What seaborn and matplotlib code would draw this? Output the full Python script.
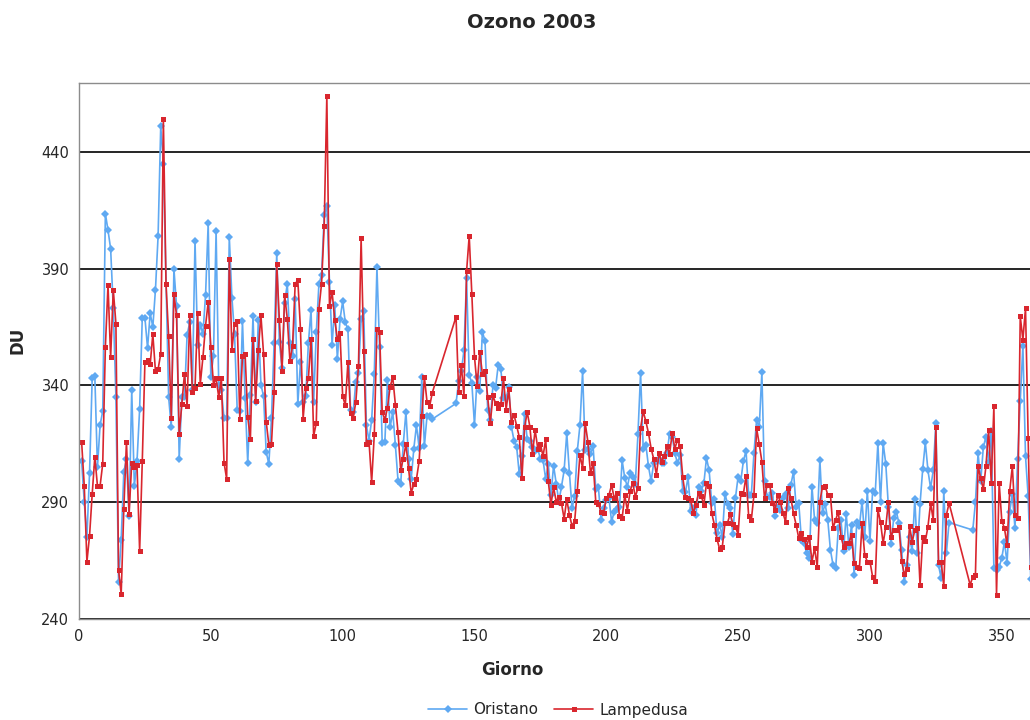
import matplotlib

matplotlib.use("Agg", force=True)
import pandas as pd  # noqa: E402
import seaborn as sns  # noqa: E402
from matplotlib import pyplot as plt  # noqa: E402

STATIONS = ["Oristano", "Lampedusa"]
PALETTE = {"Oristano": "#5fa9f2", "Lampedusa": "#d9262e"}
MARKERS = {"Oristano": "D", "Lampedusa": "s"}

# day of year for each reading (gaps are days with no measurement)
ORISTANO_DAYS = [*range(1, 33), *range(34, 135), *range(143, 331), *range(339, 362)]
ORISTANO_DU = [
    307.5, 290, 275, 302.5, 343, 344, 305, 323, 329, 413.6, 406.5, 398.5, 373, 335, 256, 274,
    303, 308.5, 284, 338, 297, 307.5, 330, 369, 369, 356, 371, 365, 381, 404, 451, 435,
    335, 322, 390, 374, 308.5, 335, 335, 361.6, 367, 338, 402, 357.5, 366, 362, 378.7, 409.4,
    343.5, 352.7, 406, 340, 338, 326, 326, 403.6, 377.5, 362, 329.7, 329, 367.6, 334.6, 306.7,
    335.7, 369.8,
    333, 368, 340.4, 335.4, 311.5, 306.4, 326, 358, 396.5, 358.4, 347.5, 375.3, 383.6, 358,
    352.4, 377, 332, 350, 333, 335.4, 358, 372.5, 333, 362.7, 383.5, 387.3, 412.8, 417, 384.4,
    357.5, 374.3, 351.3, 368.3,
    376, 367, 364, 329.4, 328.5, 341.6, 345.3, 368.3, 371.7, 323, 316.4, 325.3, 344.9, 390.6,
    356.4, 315.3, 315.6, 342.3, 322, 328.7, 314.4, 299.3, 297.8, 314.9, 328.7, 308.7, 300, 313,
    323, 313.4, 343.5, 314, 327, 326.8, 325.6,
    332.3, 341.8, 346, 355, 386, 344.5, 341, 323, 343.8, 337.6, 363, 359, 329.7, 325, 340, 339,
    348.7, 347, 334.5, 334.5, 339.4, 322.3, 316.4,
    313.6, 302, 309.6, 327.7, 317, 316.4, 313.6, 312, 313, 308.4, 308, 300, 306.3, 293, 305.7,
    298, 290.3, 296.7, 303.6, 319.6, 302.7, 287.4, 292.7, 312, 322.9, 346, 312.4, 312.7, 310.7,
    313.9, 295.7, 296.4, 282.4,
    287.4, 291, 292, 281.7, 286, 287, 287.9, 308, 300.3, 296.7, 302.4, 301, 298, 319, 345.3,
    312.7, 314.6, 305.3, 299, 307, 307.7, 308.4, 306.7, 306.7, 311, 319.3, 318.1, 311, 306.7,
    310.3, 295, 294.3, 300.7,
    286.4, 287.4, 284.6, 296.4, 295, 298.1, 308.9, 303.6, 289.6, 291.3, 276.7, 280.3, 275.3,
    293.6, 289.3, 287.4, 276.3, 292, 301, 299.1, 307.7, 312, 293.1, 293.1, 311, 325.3, 322,
    345.6, 299.3, 292.4, 292.4, 293.9, 283.9,
    288.1, 286.7, 291.7, 293.6, 287.4, 297.4, 303.1, 288.1, 289.6, 273.9, 272.4, 268.1, 266,
    296.7, 282.4, 281.3, 308.1, 285.3, 289.3, 282.4, 269.6, 263.1, 261.7, 278.9, 282.4, 269.3,
    285, 271, 280.3, 258.9, 281.7, 279.9, 290.3,
    275, 294.9, 273.6, 294.6, 293.9, 315.3, 290, 315.3, 306.4, 287.9, 272.1, 283.1, 286, 281,
    269.6, 256, 263.1, 275, 269.1, 291.4, 268.4, 289.3, 304.1, 315.6, 303.6, 296, 303.6, 323.9,
    263.1, 257.4, 294.6, 268.4, 281.3,
    278.1, 289.9, 311, 298.9, 313.6, 318.1, 307.4, 320.7, 261.7, 261, 262.4, 266, 273.1, 263.9,
    286, 293.6, 278.9, 308.4, 333.4, 357.1, 309.6, 292.7, 257,
]

LAMPEDUSA_DAYS = [*range(1, 135), *range(143, 331), *range(338, 362)]
LAMPEDUSA_DU = [
    315.7, 297, 264.5, 275.6, 293.4, 309.4, 297, 297, 306.5, 356.5, 383, 352, 381, 366.5, 261,
    250.7, 287, 316, 285, 307, 305, 306, 269, 307.5, 350, 351, 349, 362, 346, 347, 353.5, 454,
    383.6, 361, 326, 379, 370, 319, 332, 345, 331, 370, 337, 339, 371, 340.6, 352, 365.6, 375.7,
    356.5, 340.4, 343, 335, 343, 307, 300, 394, 355, 366.5, 367.6, 325.7, 352.7, 353.5, 326.5,
    317, 359.7,
    333.5, 355, 370, 353.5, 324.5, 314.6, 315, 337, 392, 368, 346.4, 378.7, 368.6, 350.5, 357,
    383.6, 385, 364, 325.7, 339, 343, 360, 318.3, 324, 372.8, 383.6, 408.4, 464, 374, 380, 368,
    360, 362.4,
    335.4, 331.5, 350, 328, 326, 333, 348.3, 403, 354.7, 314.9, 316, 298.6, 319, 364, 362.8,
    328.7, 325.3, 330.5, 339.4, 343.5, 331.7, 320, 303.8, 308.7, 314.9, 304.5, 294, 297.8, 300,
    307.5, 327, 343.5, 333, 331.2, 336.9,
    369.4, 337, 348.6, 335.4, 388.8, 404, 379, 352.3, 339.8, 354.5, 344.9, 346.4, 335, 323.8,
    335.7, 332.3, 330.2, 332, 343, 329.7, 338.3, 324.5, 327.5,
    322.7, 317.9, 300.3, 322, 328.6, 322.4, 310.7, 321, 313, 315, 309.6, 317, 298.9, 288.9,
    296.4, 290.3, 292.4, 289.6, 282.9, 291.3, 284.6, 279.9, 282, 295, 310.3, 304.6, 323.9, 316,
    302.4, 306.7, 290.3, 289.3, 286,
    285.6, 291.7, 293, 297.4, 291.7, 293.9, 283.9, 283.1, 293, 286.4, 294.6, 298.4, 292.4, 296,
    321.7, 328.9, 324.6, 319.6, 313, 308.4, 301.7, 311, 307.4, 309.6, 313.9, 310.7, 319.6, 313,
    316.7, 313.9, 300.7, 292.4, 291.7,
    291, 285.3, 288.9, 293.9, 292.7, 288.9, 298.1, 297, 285.3, 280.3, 274.1, 269.9, 271, 281,
    281.3, 285, 280.7, 279.6, 276, 293.9, 293.6, 301.3, 283.9, 282.4, 293.1, 321.7, 314.9,
    307.4, 291.7, 297.4, 297.4, 289.6, 286.7,
    293.1, 290.3, 285.3, 281.7, 296, 291.7, 285.3, 280.3, 274.6, 276.7, 274.1, 271, 275.3,
    264.6, 270.3, 262.4, 290.3, 296.7, 297, 293.1, 293.1, 278.9, 282.4, 286, 275.3, 271, 272.4,
    272.4, 276, 263.9, 262.4, 261.7, 281,
    267.4, 264.6, 264.6, 258.1, 256.3, 287, 281.4, 272.4, 279.6, 290.3, 275.3, 278.1, 278.1,
    279.6, 264.9, 259.3, 261.3, 279.9, 273.1, 277.9, 278.9, 254.4, 274.9, 273.4, 279.6, 289.6,
    282.4, 322, 264.6, 264.6, 254.1, 284.6, 289.6,
    254.6, 258.1, 258.9, 305.3, 300.3, 295.6, 305.6, 321, 298.4, 331, 250.3, 298.4, 282.1,
    278.9, 271.7, 294.9, 305.3, 284.6, 283.1, 369.6, 359.6, 373.1, 317.4, 262.4,
]

X_TICKS = [0, 50, 100, 150, 200, 250, 300, 350]
Y_TICKS = [240, 290, 340, 390, 440]


def build_frame() -> pd.DataFrame:
    parts = [
        pd.DataFrame({"Giorno": ORISTANO_DAYS, "DU": ORISTANO_DU, "stazione": "Oristano"}),
        pd.DataFrame({"Giorno": LAMPEDUSA_DAYS, "DU": LAMPEDUSA_DU, "stazione": "Lampedusa"}),
    ]
    return pd.concat(parts, ignore_index=True)


frame = build_frame()

sns.set_style("white")
plt.rcParams["font.family"] = ["DejaVu Sans"]

fig = plt.figure(figsize=(10.3, 7.2), dpi=100)
ax = fig.add_axes([79 / 1030, 101 / 720, 951 / 1030, 536 / 720])

sns.lineplot(
    data=frame,
    x="Giorno",
    y="DU",
    hue="stazione",
    style="stazione",
    hue_order=STATIONS,
    style_order=STATIONS,
    palette=PALETTE,
    markers=MARKERS,
    dashes=False,
    estimator=None,
    sort=True,
    linewidth=1.2,
    markersize=3.6,
    markeredgewidth=0,
    ax=ax,
)

ax.set_xlim(0, 360.7)
ax.set_ylim(240, 469.5)
ax.set_xticks(X_TICKS)
ax.set_yticks(Y_TICKS)
ax.yaxis.grid(True, color="black", linewidth=1.2)
ax.xaxis.grid(False)
ax.set_axisbelow(True)
for side in ("left", "bottom", "top"):
    ax.spines[side].set_color("#8c8c8c")
    ax.spines[side].set_linewidth(1.0)
ax.spines["right"].set_visible(False)
ax.tick_params(axis="both", direction="out", length=4, color="#8c8c8c", labelsize=10.5, pad=3)

ax.set_xlabel("Giorno", fontsize=12, fontweight="bold")
ax.set_ylabel("DU", fontsize=12, fontweight="bold")
ax.xaxis.set_label_coords((512 - 79) / 951, -(670 - 619) / 536)
ax.yaxis.set_label_coords((18 - 79) / 951, (619 - 340) / 536)
ax.xaxis.label.set_va("center")
ax.yaxis.label.set_va("center")

fig.text(532 / 1030, 1 - 22 / 720, "Ozono 2003", ha="center", va="center",
         fontsize=14, fontweight="bold")

handles, labels = ax.get_legend_handles_labels()
ax.legend_.remove()
fig.legend(
    handles,
    labels,
    loc="center",
    bbox_to_anchor=(558 / 1030, 1 - 710 / 720),
    ncol=2,
    frameon=False,
    fontsize=11,
    handlelength=2.6,
    columnspacing=1.0,
    handletextpad=0.4,
)

fig.savefig("out.png", dpi=100)
plt.close(fig)
